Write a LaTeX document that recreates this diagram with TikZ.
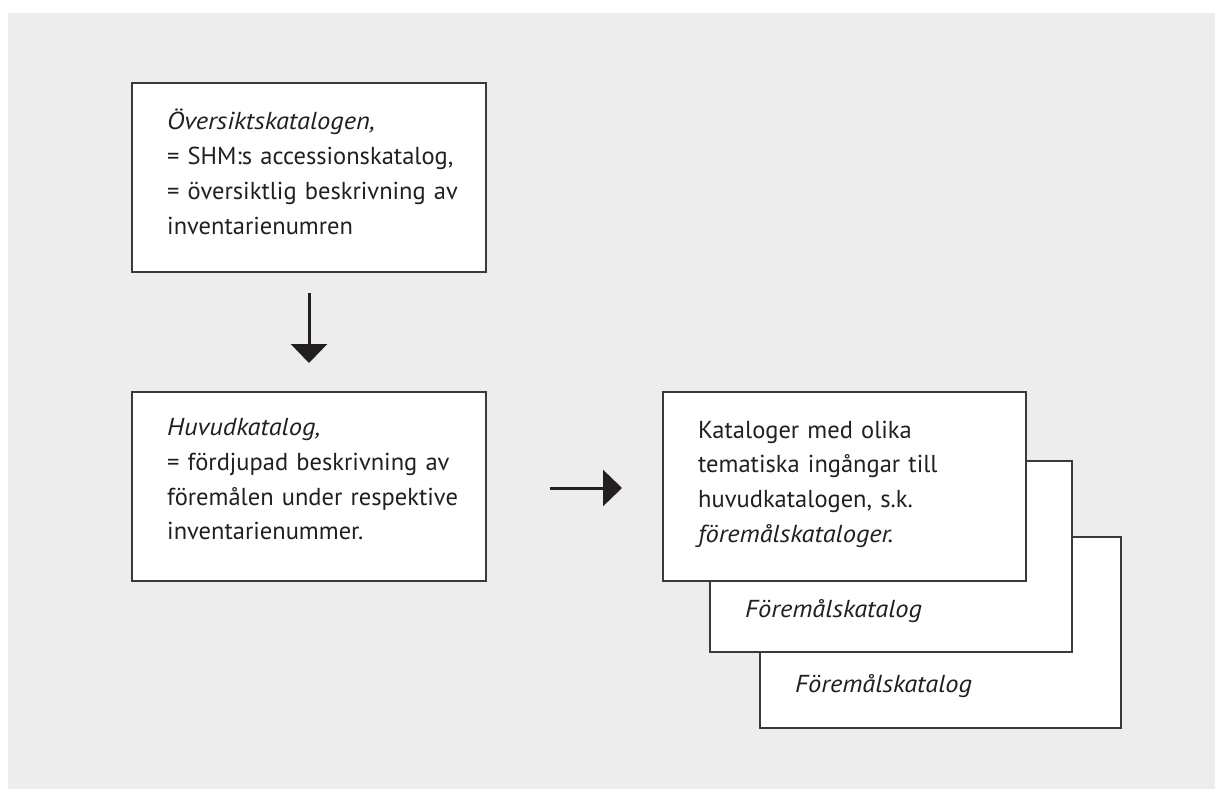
\documentclass[tikz,border=0pt]{standalone}
\usepackage{fontspec}
\setmainfont{PT Sans}[ItalicFeatures={FakeStretch=1.08}]
\usetikzlibrary{arrows.meta}
\definecolor{bg}{HTML}{EDEDED}
\definecolor{ink}{HTML}{231F20}
\definecolor{frame}{HTML}{3A3A3A}
\begin{document}
\begin{tikzpicture}[x=1pt,y=-1pt,
  box/.style={draw=frame, line width=1.5pt, fill=white, inner sep=0pt},
  txt/.style={anchor=base west, inner sep=0pt, text width=330pt, align=left,
    font=\fontsize{24.5}{34.8}\selectfont, text=ink},
  arr/.style={draw=ink, line width=3pt, -{Triangle[width=36pt,length=19pt]}}]
\useasboundingbox (0,0) rectangle (1215,789);
\fill[white] (0,0) rectangle (1215,789);
\fill[bg] (8,13) rectangle (1215,789);
% left column
\node[box, minimum width=354pt, minimum height=189pt] (b1) at (309,177.5) {};
\node[txt] (t1) at (167,130) {\textit{Översiktskatalogen,}\\= SHM:s accessionskatalog,\\= översiktlig beskrivning av\\inventarienumren};
\node[box, minimum width=354pt, minimum height=189pt] (b2) at (309,486.5) {};
\node[txt] (t2) at (167,435.5) {\textit{Huvudkatalog,}\\= fördjupad beskrivning av\\föremålen under respektive\\inventarienummer.};
% stacked catalogues
\node[box, minimum width=361pt, minimum height=191pt] (b5) at (940.5,632.5) {};
\node[box, minimum width=362pt, minimum height=191pt] (b4) at (891,556.5) {};
\node[box, minimum width=363pt, minimum height=189pt] (b3) at (844.5,486.5) {};
\node[txt] (t3) at (698,438) {Kataloger med olika\\tematiska ingångar till\\huvudkatalogen, s.k.\\\textit{föremålskataloger.}};
\node[txt] (t4) at (745,617) {\textit{Föremålskatalog}};
\node[txt] (t5) at (795,692) {\textit{Föremålskatalog}};
% arrows
\coordinate (d0) at (309,293);
\coordinate (d1) at (309,363);
\coordinate (r0) at (550,488);
\coordinate (r1) at (622,488);
\draw[arr] (d0) -- (d1);
\draw[arr] (r0) -- (r1);
\end{tikzpicture}
\end{document}
